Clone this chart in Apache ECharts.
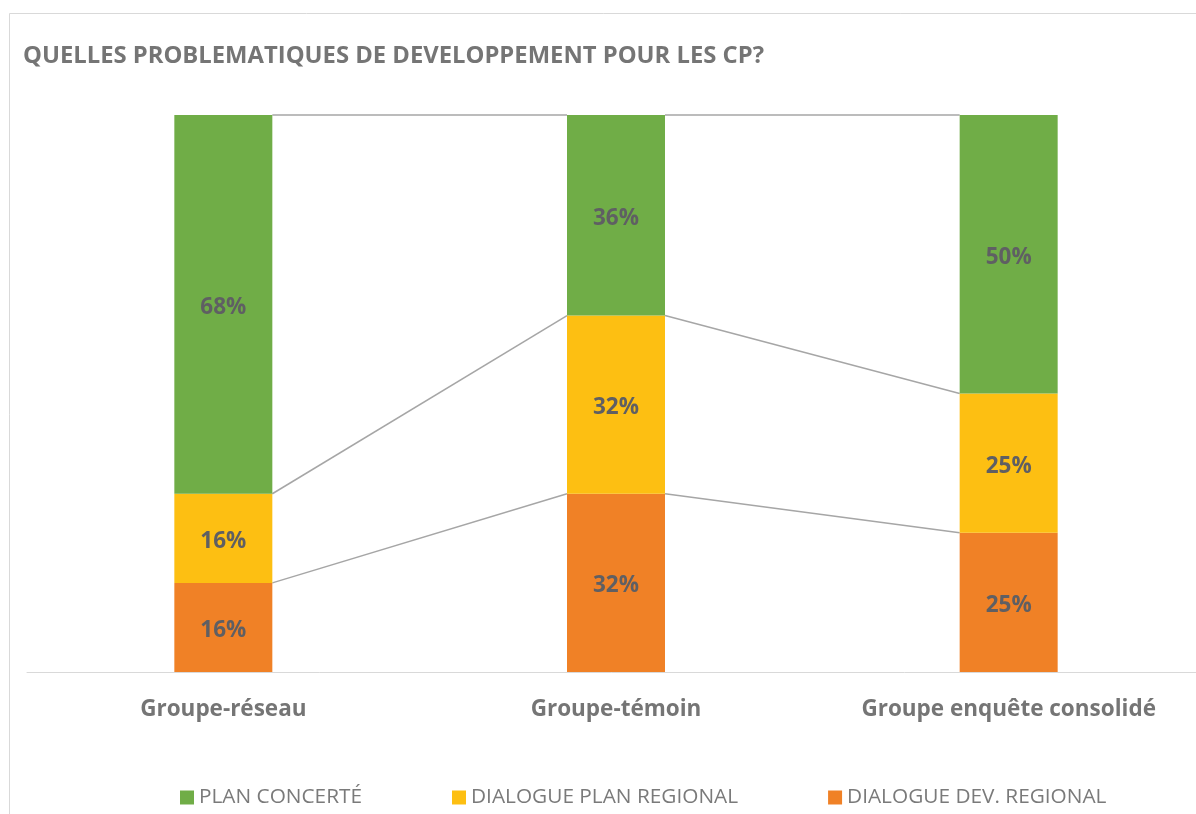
<!DOCTYPE html>
<html>
<head>
<meta charset="utf-8">
<title>Quelles problématiques de développement pour les CP?</title>
<script src="https://cdn.jsdelivr.net/npm/echarts@6/dist/echarts.min.js"></script>
<style>
  html, body { margin: 0; padding: 0; background: #ffffff; }
  #chart { width: 1196px; height: 814px; }
</style>
</head>
<body>
<div id="chart"></div>
<script>
// Categories and shares (%) for each group
const categories = ['Groupe-réseau', 'Groupe-témoin', 'Groupe enquête consolidé'];
const dialogueDevRegional = [16, 32, 25];
const dialoguePlanRegional = [16, 32, 25];
const planConcerte = [68, 36, 50];

const seriesNames = ['PLAN CONCERTÉ', 'DIALOGUE PLAN REGIONAL', 'DIALOGUE DEV. REGIONAL'];
const colors = { plan: '#70AD47', dialoguePlan: '#FDBF12', dialogueDev: '#F08126' };

const FONT = '"Open Sans", Lato, sans-serif';
const BAR_W = 98;

// Stack boundaries for the series lines joining neighbouring columns
const stackLayers = [dialogueDevRegional, dialoguePlanRegional, planConcerte];
const connectorData = [];
for (let i = 0; i < categories.length - 1; i++) {
  let cumA = 0, cumB = 0;
  stackLayers.forEach(layer => {
    cumA += layer[i];
    cumB += layer[i + 1];
    connectorData.push([i, cumA, cumB]);
  });
}

const chart = echarts.init(document.getElementById('chart'), null, { renderer: 'canvas' });

const labelStyle = {
  show: true,
  position: 'inside',
  offset: [0, 3],
  formatter: p => p.value + '%',
  color: '#5f5f63',
  fontFamily: FONT,
  fontWeight: 'bold',
  fontSize: 22.5
};

chart.setOption({
  backgroundColor: '#ffffff',
  animation: false,
  title: {
    text: 'QUELLES PROBLEMATIQUES DE DEVELOPPEMENT POUR LES CP?',
    left: 18,
    top: 39,
    textStyle: { color: '#757575', fontFamily: FONT, fontWeight: 'bold', fontSize: 23.8 }
  },
  graphic: [{
    type: 'rect',
    shape: { x: 9.5, y: 13.5, width: 1200, height: 820 },
    style: { fill: 'none', stroke: '#d9d9d9', lineWidth: 1 },
    silent: true,
    z: -1
  }],
  legend: {
    data: seriesNames,
    top: 782,
    left: 175,
    itemGap: 90,
    itemWidth: 14,
    itemHeight: 14,
    icon: 'rect',
    textStyle: { color: '#7a7a7a', fontFamily: FONT, fontSize: 20.8 }
  },
  grid: {
    left: 27, width: 1178, top: 115, bottom: 142,
    containLabel: false, outerBoundsMode: 'none'
  },
  xAxis: {
    type: 'category',
    data: categories,
    axisLine: { lineStyle: { color: '#d9d9d9', width: 1 } },
    axisTick: { show: false },
    axisLabel: {
      color: '#757575', fontFamily: FONT, fontWeight: 'bold', fontSize: 22.5, margin: 26
    }
  },
  yAxis: {
    type: 'value', min: 0, max: 100, show: false, splitLine: { show: false }
  },
  series: [
    {
      name: 'DIALOGUE DEV. REGIONAL', type: 'bar', stack: 'total', barWidth: BAR_W,
      itemStyle: { color: colors.dialogueDev }, label: labelStyle, data: dialogueDevRegional, z: 3
    },
    {
      name: 'DIALOGUE PLAN REGIONAL', type: 'bar', stack: 'total', barWidth: BAR_W,
      itemStyle: { color: colors.dialoguePlan }, label: labelStyle, data: dialoguePlanRegional, z: 3
    },
    {
      name: 'PLAN CONCERTÉ', type: 'bar', stack: 'total', barWidth: BAR_W,
      itemStyle: { color: colors.plan }, label: labelStyle, data: planConcerte, z: 3
    },
    {
      // series lines between the right edge of one column and the left edge of the next
      type: 'custom',
      silent: true,
      z: 2,
      data: connectorData,
      encode: { x: 0, y: [1, 2] },
      renderItem: function (params, api) {
        const i = api.value(0);
        const a = api.coord([i, api.value(1)]);
        const b = api.coord([i + 1, api.value(2)]);
        return {
          type: 'line',
          shape: { x1: a[0] + BAR_W / 2, y1: a[1], x2: b[0] - BAR_W / 2, y2: b[1] },
          style: { stroke: '#a6a6a6', lineWidth: 1.5 }
        };
      }
    }
  ]
});
</script>
</body>
</html>
